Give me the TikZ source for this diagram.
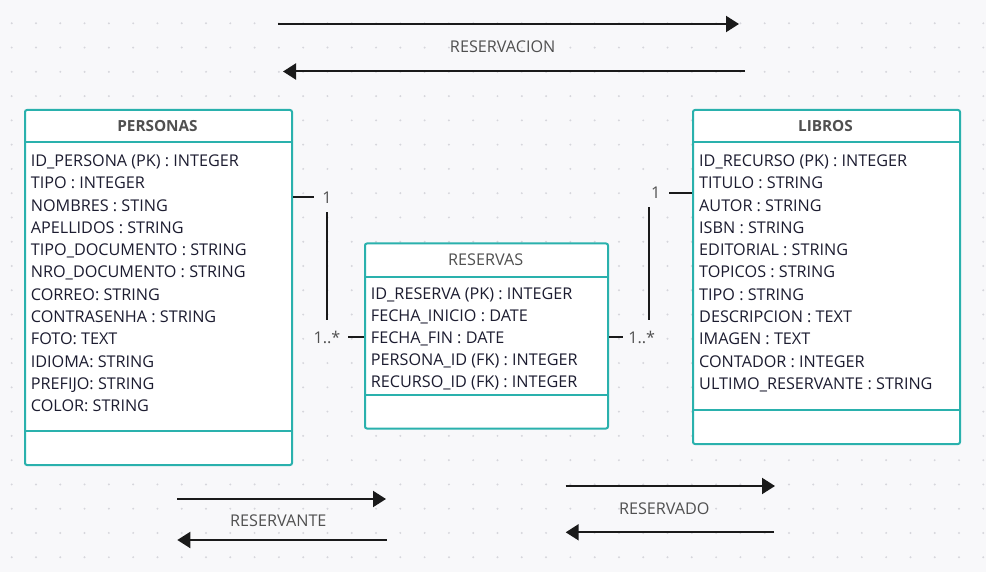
\documentclass[tikz,border=0pt]{standalone}
\usepackage{fontspec}
\setmainfont{Open Sans}
\usetikzlibrary{arrows.meta}
\definecolor{bgc}{HTML}{F8F8FA}
\definecolor{dotc}{HTML}{D6D6DC}
\definecolor{tealc}{HTML}{2AB1AD}
\definecolor{inkc}{HTML}{1C1C30}
\definecolor{grayc}{HTML}{505050}
\definecolor{linec}{HTML}{1A1A1A}
\begin{document}
\begin{tikzpicture}[x=1pt,y=-1pt,
  classbox/.style={draw=tealc, line width=2pt, fill=white, rounded corners=2pt, anchor=north west, inner sep=0},
  sepline/.style={draw=tealc, line width=2pt},
  attr/.style={anchor=base west, inner sep=0, text=inkc, font=\fontsize{16.2}{18}\selectfont},
  ctitle/.style={anchor=base, inner sep=0, text=grayc, font=\fontsize{15.3}{18}\selectfont\bfseries},
  rtitle/.style={anchor=base, inner sep=0, text=grayc, font=\fontsize{16.2}{18}\selectfont},
  lbl/.style={anchor=base, inner sep=0, text=grayc, font=\fontsize{16.2}{18}\selectfont},
  mult/.style={fill=bgc, inner sep=0, text=grayc, font=\fontsize{16.2}{18}\selectfont},
  arr/.style={draw=linec, line width=2pt, -{Triangle[length=13pt,width=16pt]}},
  conn/.style={draw=linec, line width=2pt}
]
\fill[bgc] (0,0) rectangle (986,572);
\useasboundingbox (0,0) rectangle (986,572);
\foreach \i in {0,...,40}
  \foreach \j in {0,...,22}
    \fill[dotc] (11.7+\i*24.29, 23.3+\j*24.27) circle (1.1pt);

% Classes
\node[classbox, minimum width=267pt, minimum height=355pt] (personas) at (24,109) {};
\draw[sepline] (24,142) -- (291,142);
\draw[sepline] (24,431) -- (291,431);
\node[ctitle] (tpersonas) at (157.5,131.5) {PERSONAS};
\foreach \t [count=\i from 0] in {ID\_PERSONA (PK) : INTEGER, TIPO : INTEGER, NOMBRES : STING, APELLIDOS : STRING, TIPO\_DOCUMENTO : STRING, NRO\_DOCUMENTO : STRING, CORREO: STRING, CONTRASENHA : STRING, FOTO: TEXT, IDIOMA: STRING, PREFIJO: STRING, COLOR: STRING}
  \node[attr] (pa\i) at (30.7, 166.5+\i*22.3) {\t};

\node[classbox, minimum width=267pt, minimum height=334pt] (libros) at (692,109) {};
\draw[sepline] (692,142) -- (959,142);
\draw[sepline] (692,410) -- (959,410);
\node[ctitle] (tlibros) at (825.5,131.5) {LIBROS};
\foreach \t [count=\i from 0] in {ID\_RECURSO (PK) : INTEGER, TITULO : STRING, AUTOR : STRING, ISBN : STRING, EDITORIAL : STRING, TOPICOS : STRING, TIPO : STRING, DESCRIPCION : TEXT, IMAGEN : TEXT, CONTADOR : INTEGER, ULTIMO\_RESERVANTE : STRING}
  \node[attr] (la\i) at (699, 166.5+\i*22.3) {\t};

\node[classbox, minimum width=243pt, minimum height=185pt] (reservas) at (364,242.5) {};
\draw[sepline] (364,277) -- (607,277);
\draw[sepline] (364,395) -- (607,395);
\node[rtitle] (treservas) at (485.7,265.8) {RESERVAS};
\foreach \t [count=\i from 0] in {ID\_RESERVA (PK) : INTEGER, FECHA\_INICIO : DATE, FECHA\_FIN : DATE, PERSONA\_ID (FK) : INTEGER, RECURSO\_ID (FK) : INTEGER}
  \node[attr] (ra\i) at (370.7, 299.1+\i*22.2) {\t};

% Connectors
\draw[conn] (personas.east |- 0,197) -| (327,267) |- (reservas.west |- 0,337);
\node[mult, minimum width=26pt, minimum height=29pt] (m1) at (327,198) {1};
\node[mult, minimum width=41pt, minimum height=33pt] (m2) at (327,337) {1..*};
\draw[conn] (reservas.east |- 0,337) -| (649,265) |- (libros.west |- 0,193);
\node[mult, minimum width=27pt, minimum height=28pt] (m3) at (655.7,193) {1};
\node[mult, minimum width=38pt, minimum height=34pt] (m4) at (641.7,337) {1..*};

% Direction arrows
\coordinate (a1s) at (278,24);   \coordinate (a1e) at (739,24);
\coordinate (a2s) at (745,71.5); \coordinate (a2e) at (283,71.5);
\draw[arr] (a1s) -- (a1e);
\draw[arr] (a2s) -- (a2e);
\node[lbl] (l1) at (502.7,52.5) {RESERVACION};

\coordinate (b1s) at (177,499);   \coordinate (b1e) at (386,499);
\coordinate (b2s) at (386.7,540); \coordinate (b2e) at (177.3,540);
\draw[arr] (b1s) -- (b1e);
\draw[arr] (b2s) -- (b2e);
\node[lbl] (l2) at (278.3,526.8) {RESERVANTE};

\coordinate (c1s) at (565.7,486); \coordinate (c1e) at (775,486);
\coordinate (c2s) at (774,532.3); \coordinate (c2e) at (565.7,532.3);
\draw[arr] (c1s) -- (c1e);
\draw[arr] (c2s) -- (c2e);
\node[lbl] (l3) at (664.3,514.8) {RESERVADO};
\end{tikzpicture}
\end{document}
